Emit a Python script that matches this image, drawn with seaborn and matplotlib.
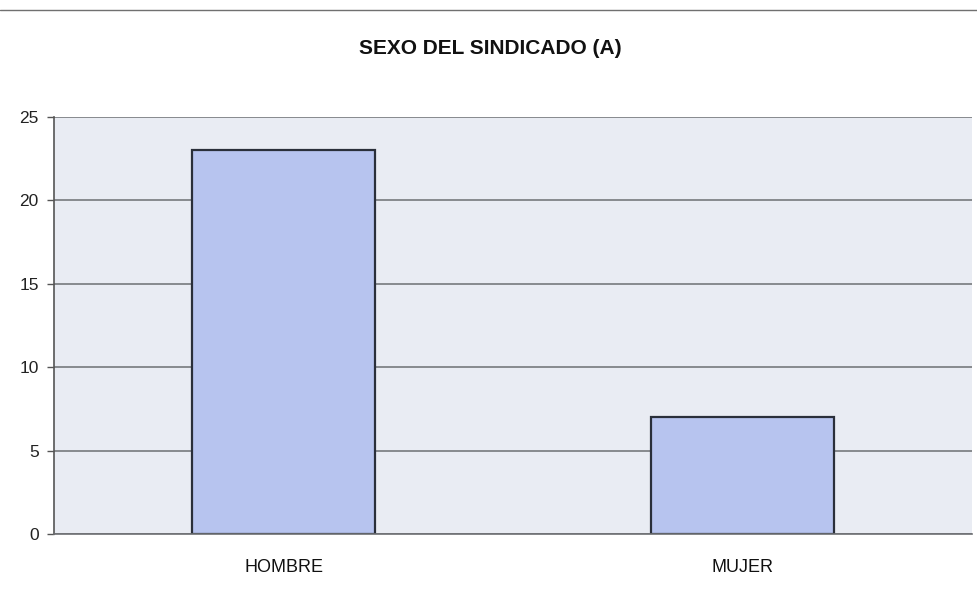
import matplotlib
matplotlib.use("Agg")
import matplotlib.pyplot as plt
import seaborn as sns
import pandas as pd
from matplotlib.lines import Line2D

categories = ["HOMBRE", "MUJER"]
values = [23, 7]
y_ticks = [0, 5, 10, 15, 20, 25]
title = "SEXO DEL SINDICADO (A)"

sns.set_theme(style="white")
plt.rcParams["font.family"] = ["Liberation Sans", "DejaVu Sans"]

df = pd.DataFrame({"cat": categories, "val": values})

fig = plt.figure(figsize=(9.77, 6.0), dpi=100)
ax = fig.add_axes([54 / 977, 66 / 600, 918 / 977, 417 / 600])
ax.set_facecolor("#e9ecf3")

sns.barplot(data=df, x="cat", y="val", ax=ax, color="#b7c4ef",
            edgecolor="#2a2f3a", linewidth=1.6, width=0.4, saturation=1)

ax.set_xlim(-0.5, 1.5)
ax.set_ylim(0, 25)
ax.set_yticks(y_ticks)
ax.set_yticklabels([str(t) for t in y_ticks], fontsize=12.5, color="#222222")
ax.yaxis.grid(True, color="#6d6f73", linewidth=1.1)
ax.set_axisbelow(True)
ax.set_xlabel("")
ax.set_ylabel("")
ax.tick_params(axis="y", left=True, length=5, width=1, color="#555555", pad=6)
ax.tick_params(axis="x", bottom=False, length=0, pad=18, labelsize=13, labelcolor="#111111")

for s in ["top", "right"]:
    ax.spines[s].set_visible(False)
ax.spines["left"].set_color("#555555")
ax.spines["left"].set_linewidth(1.2)
ax.spines["bottom"].set_color("#6d6f73")
ax.spines["bottom"].set_linewidth(1.2)

fig.text(490 / 977, 1 - 48 / 600, title, ha="center", va="center",
         fontsize=15, fontweight="bold", color="#111111")

fig.add_artist(Line2D([0.0, 1.0], [1 - 10 / 600, 1 - 10 / 600],
                      transform=fig.transFigure, color="#707070", linewidth=1.0))

fig.savefig("out.png", dpi=100)
